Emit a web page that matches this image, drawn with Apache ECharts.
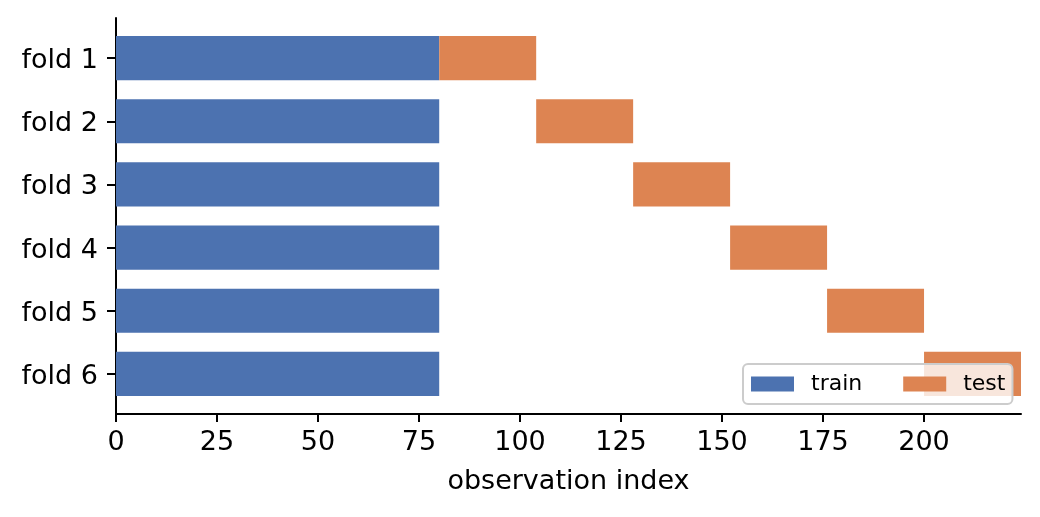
<!DOCTYPE html>
<html>
<head>
<meta charset="utf-8">
<script src="https://cdn.jsdelivr.net/npm/echarts@6/dist/echarts.min.js"></script>
<style>
html,body{margin:0;padding:0;background:#fff;}
#chart{width:1040px;height:517px;}
</style>
</head>
<body>
<div id="chart"></div>
<script>
const foldLabels = ['fold 1', 'fold 2', 'fold 3', 'fold 4', 'fold 5', 'fold 6'];
const trainStart = [0, 0, 0, 0, 0, 0];
const trainEnd = [80, 80, 80, 80, 80, 80];
const testStart = [80, 104, 128, 152, 176, 200];
const testEnd = [104, 128, 152, 176, 200, 224];
const xTicks = [0, 25, 50, 75, 100, 125, 150, 175, 200];
const xMin = 0, xMax = 224;

const FONT = 'DejaVu Sans';
const chart = echarts.init(document.getElementById('chart'), null, {renderer: 'canvas'});

function buildData(starts, ends) {
  return foldLabels.map((f, i) => [starts[i], ends[i], i]);
}
function renderBar(params, api) {
  const s = api.value(0), e = api.value(1), c = api.value(2);
  const p0 = api.coord([s, c]);
  const p1 = api.coord([e, c]);
  const h = api.size([0, 1])[1] * 0.7;
  return {
    type: 'rect',
    shape: {x: p0[0], y: p0[1] - h / 2, width: p1[0] - p0[0], height: h},
    style: api.style()
  };
}

const option = {
  animation: false,
  backgroundColor: '#ffffff',
  textStyle: {fontFamily: FONT},
  grid: [
    {left: 116, right: 19, top: 18, bottom: 103},
    {left: 116, right: 19, top: 26.5, bottom: 111.5},
    {left: 116, right: 19, top: 29.5, bottom: 108.5}
  ],
  xAxis: [
    {
      gridIndex: 0, type: 'value', min: xMin, max: xMax,
      name: 'observation index', nameLocation: 'middle', nameGap: 54,
      nameTextStyle: {fontFamily: FONT, fontSize: 27, color: '#000'},
      axisLine: {show: true, lineStyle: {color: '#000', width: 2}},
      axisTick: {show: true, length: 8, lineStyle: {color: '#000', width: 2}, customValues: xTicks},
      axisLabel: {fontFamily: FONT, fontSize: 27, color: '#000', margin: 15, customValues: xTicks},
      splitLine: {show: false}
    },
    {gridIndex: 1, type: 'value', min: xMin, max: xMax, show: false},
    {gridIndex: 2, type: 'value', min: xMin, max: xMax, show: false}
  ],
  yAxis: [
    {
      gridIndex: 0, type: 'value', min: 0, max: 1,
      axisLine: {show: true, lineStyle: {color: '#000', width: 2}},
      axisTick: {show: false}, axisLabel: {show: false}, splitLine: {show: false}
    },
    {
      gridIndex: 1, type: 'category', data: foldLabels, inverse: true,
      axisLine: {show: false},
      axisTick: {show: true, alignWithLabel: true, length: 9, lineStyle: {color: '#000', width: 2}},
      axisLabel: {show: false},
      splitLine: {show: false}
    },
    {
      gridIndex: 2, type: 'category', data: foldLabels, inverse: true,
      axisLine: {show: false},
      axisTick: {show: false},
      axisLabel: {fontFamily: FONT, fontSize: 27, color: '#000', margin: 18},
      splitLine: {show: false}
    }
  ],
  legend: {
    left: 743, top: 364,
    orient: 'horizontal',
    data: [{name: 'train', icon: 'rect'}, {name: 'test', icon: 'rect'}],
    itemWidth: 43, itemHeight: 15, itemGap: 41,
    padding: [9, 7, 9, 8],
    backgroundColor: 'rgba(255,255,255,0.8)',
    borderColor: '#cccccc', borderWidth: 2, borderRadius: 5,
    textStyle: {fontFamily: FONT, fontSize: 22, color: '#000', padding: [0, 0, 0, 12]},
    selectedMode: false
  },
  series: [
    {
      name: 'train', type: 'custom', xAxisIndex: 1, yAxisIndex: 1,
      renderItem: renderBar,
      itemStyle: {color: '#4c72b0'},
      encode: {x: [0, 1], y: 2},
      data: buildData(trainStart, trainEnd)
    },
    {
      name: 'test', type: 'custom', xAxisIndex: 1, yAxisIndex: 1,
      renderItem: renderBar,
      itemStyle: {color: '#dd8452'},
      encode: {x: [0, 1], y: 2},
      data: buildData(testStart, testEnd)
    }
  ]
};
chart.setOption(option);
</script>
</body>
</html>
